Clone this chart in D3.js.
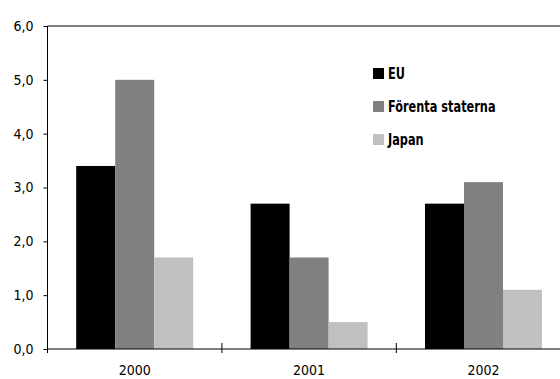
<!DOCTYPE html>
<html>
<head>
<meta charset="utf-8">
<script src="https://cdn.jsdelivr.net/npm/d3@7"></script>
<style>
  body { margin: 0; background: #fff; }
  svg { display: block; font-family: "Liberation Sans Narrow", "DejaVu Sans Condensed", sans-serif; }
</style>
</head>
<body>
<svg id="chart" width="560" height="379"></svg>
<script>
// data
let years = ["2000", "2001", "2002"]
let seriesNames = ["EU", "Förenta staterna", "Japan"]
let euValues = [3.4, 2.7, 2.7]
let usValues = [5.0, 1.7, 3.1]
let japanValues = [1.7, 0.5, 1.1]
let yTicks = [0, 1, 2, 3, 4, 5, 6]
let colors = ["#000000", "#808080", "#c0c0c0"]

let allValues = [euValues, usValues, japanValues]

let svg = d3.select("#chart")

// plot area
let plotLeft = 47.5, plotTop = 26, plotBottom = 349
let step = 174.4

let x0 = d3.scaleBand().domain(years).range([plotLeft, plotLeft + step * years.length])
let x1 = d3.scaleBand().domain(seriesNames).range([0, step]).paddingOuter(0.736)
let y = d3.scaleLinear().domain([0, 6]).range([plotBottom, plotTop])

//bars
years.forEach(function(yr, i){
  seriesNames.forEach(function(s, j){
    let v = allValues[j][i]
    svg.append("rect")
      .attr("x", x0(yr) + x1(s))
      .attr("y", y(v))
      .attr("width", x1.bandwidth())
      .attr("height", y(0) - y(v))
      .attr("fill", colors[j])
  })
})

// top border
svg.append("line")
  .attr("x1", plotLeft).attr("x2", 560)
  .attr("y1", plotTop).attr("y2", plotTop)
  .attr("stroke", "#808080").attr("stroke-width", 2)

// y axis
let yAxis = d3.axisLeft(y).tickValues(yTicks).tickSize(4).tickPadding(10)
  .tickFormat(d => d3.format(".1f")(d).replace(".", ","))
let gy = svg.append("g").attr("transform", "translate(" + plotLeft + ",0)").call(yAxis)
gy.select(".domain").remove()
gy.append("line").attr("x1", 0).attr("x2", 0).attr("y1", plotTop).attr("y2", plotBottom + 4).attr("stroke", "#000")
gy.selectAll("text").attr("font-size", 14).attr("fill", "#000")
gy.attr("font-family", null)

// x axis
svg.append("line")
  .attr("x1", plotLeft).attr("x2", 560)
  .attr("y1", plotBottom).attr("y2", plotBottom)
  .attr("stroke", "#000")
years.slice(1).forEach(function(yr){
  svg.append("line")
    .attr("x1", x0(yr)).attr("x2", x0(yr))
    .attr("y1", plotBottom - 6).attr("y2", plotBottom + 4)
    .attr("stroke", "#000")
})
svg.selectAll(".xlabel").data(years).enter().append("text")
  .attr("class", "xlabel")
  .attr("x", d => x0(d) + step / 2)
  .attr("y", 375)
  .attr("text-anchor", "middle")
  .attr("font-size", 14)
  .text(d => d)

// legend
let legend = svg.append("g").attr("transform", "translate(373,68)")
seriesNames.forEach(function(s, j){
  let g = legend.append("g").attr("transform", "translate(0," + (j * 33) + ")")
  g.append("rect").attr("width", 11).attr("height", 11).attr("fill", colors[j])
  g.append("text")
    .attr("transform", "translate(15,11) scale(0.84,1)")
    .attr("font-size", 15).attr("font-weight", "bold")
    .text(s)
})
</script>
</body>
</html>
